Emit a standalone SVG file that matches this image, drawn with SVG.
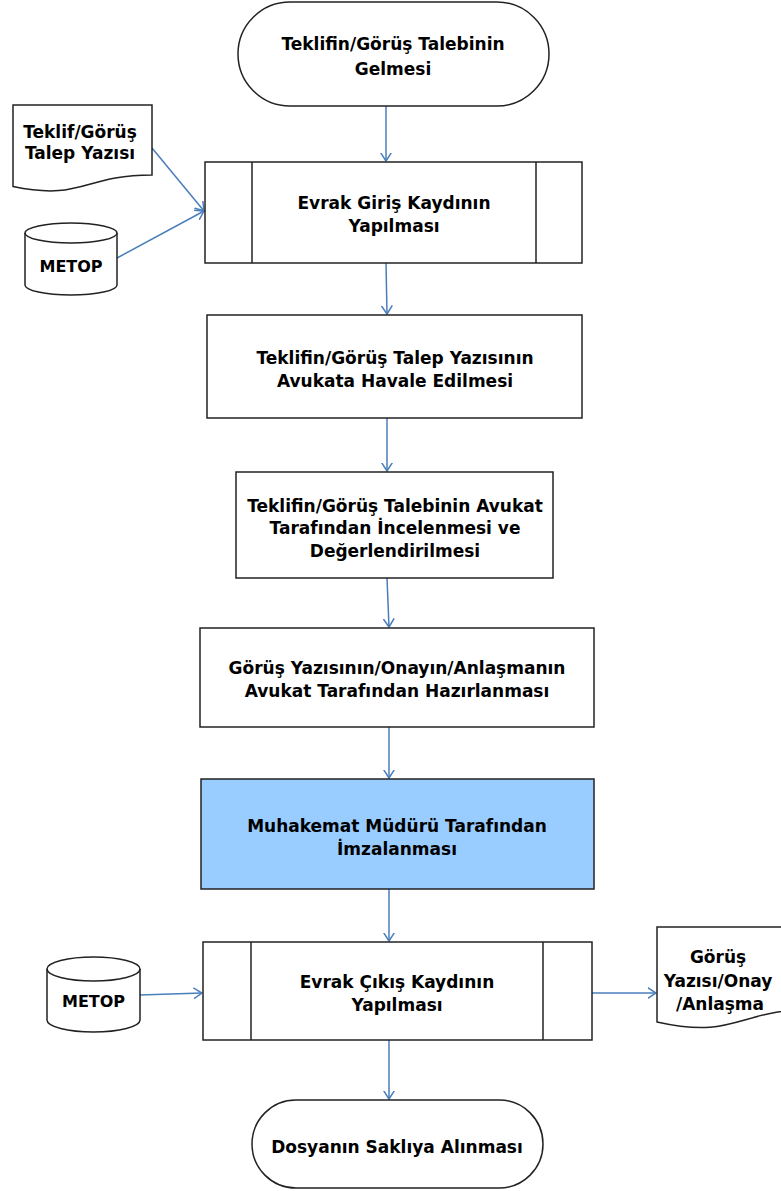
<svg xmlns="http://www.w3.org/2000/svg" width="781" height="1191" viewBox="0 0 781 1191">
<defs>
<style>
.s{fill:#fff;stroke:#222;stroke-width:1.5}
.b{fill:#99ccff;stroke:#222;stroke-width:1.5}
.l{fill:none;stroke:#222;stroke-width:1.5}
.t{font-family:"DejaVu Sans",Verdana,sans-serif;font-weight:bold;font-size:17px;fill:#000;text-anchor:middle}
.c{fill:none;stroke:#4a7ebb;stroke-width:1.5;marker-end:url(#ah)}
</style>
<marker id="ah" markerUnits="userSpaceOnUse" viewBox="0 0 10 12" markerWidth="10" markerHeight="12" refX="8.5" refY="6" orient="auto">
<path d="M0,0.5 L8.5,6 L0,11.5" fill="none" stroke="#4a7ebb" stroke-width="1.5"/>
</marker>
</defs>
<rect width="781" height="1191" fill="#fff"/>
<g id="connectors">
<line class="c" x1="386" y1="106" x2="386" y2="161"/>
<line class="c" x1="152" y1="148" x2="204" y2="211"/>
<line class="c" x1="117" y1="258" x2="204" y2="211"/>
<line class="c" x1="386" y1="263" x2="387" y2="314"/>
<line class="c" x1="387" y1="418" x2="387" y2="471"/>
<line class="c" x1="387" y1="578" x2="389" y2="627"/>
<line class="c" x1="389" y1="727" x2="389" y2="778"/>
<line class="c" x1="389" y1="889" x2="389" y2="941"/>
<line class="c" x1="140" y1="995" x2="202" y2="993"/>
<line class="c" x1="592" y1="993" x2="656" y2="993"/>
<line class="c" x1="389" y1="1040" x2="389" y2="1099"/>
</g>
<g id="start">
<rect class="s" x="238" y="2" width="311" height="104" rx="52" ry="52"/>
<text class="t" x="393" y="50">Teklifin/Görüş Talebinin</text>
<text class="t" x="393" y="75">Gelmesi</text>
</g>
<g id="doc-talep">
<path class="s" d="M13,105 H152 V175 C82.5,175 82.5,201 13,186.5 Z"/>
<text class="t" x="80" y="138">Teklif/Görüş</text>
<text class="t" x="80" y="159">Talep Yazısı</text>
</g>
<g id="db-metop-1">
<path class="s" d="M25,233 A46,10 0 0 1 117,233 V285 A46,10 0 0 1 25,285 Z"/>
<path class="l" d="M25,233 A46,10 0 0 0 117,233"/>
<text class="t" x="71" y="272" style="font-size:16px">METOP</text>
</g>
<g id="evrak-giris">
<rect class="s" x="205" y="162" width="377" height="101"/>
<line class="l" x1="252" y1="162" x2="252" y2="263"/>
<line class="l" x1="536" y1="162" x2="536" y2="263"/>
<text class="t" x="394" y="209">Evrak Giriş Kaydının</text>
<text class="t" x="394" y="232">Yapılması</text>
</g>
<g id="havale">
<rect class="s" x="207" y="315" width="375" height="103"/>
<text class="t" x="395" y="364">Teklifin/Görüş Talep Yazısının</text>
<text class="t" x="395" y="387">Avukata Havale Edilmesi</text>
</g>
<g id="inceleme">
<rect class="s" x="236" y="472" width="317" height="106"/>
<text class="t" x="395" y="512">Teklifin/Görüş Talebinin Avukat</text>
<text class="t" x="395" y="534">Tarafından İncelenmesi ve</text>
<text class="t" x="395" y="557">Değerlendirilmesi</text>
</g>
<g id="hazirlama">
<rect class="s" x="200" y="628" width="394" height="99"/>
<text class="t" x="397" y="674">Görüş Yazısının/Onayın/Anlaşmanın</text>
<text class="t" x="397" y="697">Avukat Tarafından Hazırlanması</text>
</g>
<g id="imza">
<rect class="b" x="201" y="779" width="393" height="110"/>
<text class="t" x="397" y="832">Muhakemat Müdürü Tarafından</text>
<text class="t" x="397" y="855">İmzalanması</text>
</g>
<g id="evrak-cikis">
<rect class="s" x="203" y="942" width="389" height="98"/>
<line class="l" x1="251" y1="942" x2="251" y2="1040"/>
<line class="l" x1="543" y1="942" x2="543" y2="1040"/>
<text class="t" x="397" y="988">Evrak Çıkış Kaydının</text>
<text class="t" x="397" y="1011">Yapılması</text>
</g>
<g id="db-metop-2">
<path class="s" d="M47,969 A46.5,12 0 0 1 140,969 V1020 A46.5,12 0 0 1 47,1020 Z"/>
<path class="l" d="M47,969 A46.5,12 0 0 0 140,969"/>
<text class="t" x="93.5" y="1007" style="font-size:16px">METOP</text>
</g>
<g id="doc-gorus">
<path class="s" d="M657,927 H817 V1009 C737,1009 737,1040 657,1022 Z"/>
<text class="t" x="718" y="963">Görüş</text>
<text class="t" x="718" y="987">Yazısı/Onay</text>
<text class="t" x="720" y="1010">/Anlaşma</text>
</g>
<g id="end">
<rect class="s" x="252" y="1100" width="291" height="88" rx="44" ry="44"/>
<text class="t" x="397" y="1153">Dosyanın Saklıya Alınması</text>
</g>
</svg>
